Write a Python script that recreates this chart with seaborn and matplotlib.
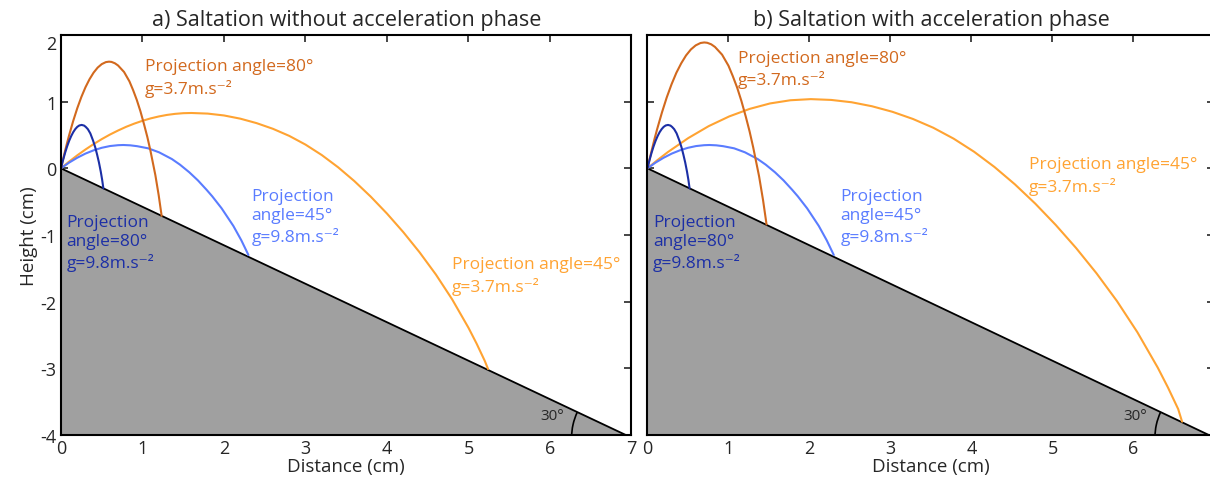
import matplotlib
matplotlib.use("Agg")
import matplotlib.pyplot as plt
from matplotlib.patches import Arc
import seaborn as sns

# ground surface, 30 degree slope (cm)
ground_x = [0, 7]
ground_y = [0, -4.04]

# trajectories (cm)
# 80 deg, g=9.8 (same in both panels)
blue80_x = [0, 0.0125, 0.025, 0.05, 0.075, 0.1, 0.125, 0.15, 0.175, 0.2, 0.225, 0.254, 0.284,
            0.305, 0.33, 0.36, 0.394, 0.42, 0.443, 0.466, 0.488, 0.505, 0.52]
blue80_y = [0, 0.063, 0.122, 0.231, 0.328, 0.412, 0.483, 0.542, 0.588, 0.622, 0.643, 0.651,
            0.641, 0.620, 0.587, 0.524, 0.415, 0.316, 0.207, 0.087, -0.049, -0.171, -0.30]
# 45 deg, g=9.8 (same in both panels)
blue45_x = [0, 0.1, 0.2, 0.3, 0.4, 0.5, 0.6, 0.7, 0.765, 0.85, 0.935, 1.07, 1.204, 1.361,
            1.46, 1.574, 1.68, 1.787, 1.856, 1.971, 2.115, 2.213, 2.30]
blue45_y = [0, 0.086, 0.159, 0.221, 0.270, 0.308, 0.334, 0.347, 0.35, 0.345, 0.332, 0.30,
            0.24, 0.139, 0.055, -0.059, -0.181, -0.323, -0.42, -0.60, -0.864, -1.08, -1.30]

# a) without acceleration phase, g=3.7
orange80a_x = [0, 0.025, 0.05, 0.075, 0.1, 0.15, 0.2, 0.25, 0.3, 0.35, 0.4, 0.45, 0.5, 0.55,
               0.589, 0.62, 0.661, 0.70, 0.774, 0.840, 0.885, 0.930, 0.975, 1.020, 1.06,
               1.097, 1.158, 1.199, 1.235]
orange80a_y = [0, 0.133, 0.26, 0.381, 0.497, 0.711, 0.902, 1.070, 1.215, 1.336, 1.435, 1.511,
               1.563, 1.593, 1.60, 1.596, 1.576, 1.543, 1.445, 1.304, 1.173, 1.026, 0.855,
               0.656, 0.468, 0.268, -0.102, -0.405, -0.713]
orange45a_x = [0, 0.1, 0.2, 0.3, 0.4, 0.5, 0.6, 0.7, 0.8, 0.9, 1.0, 1.1, 1.2, 1.3, 1.4, 1.5,
               1.6, 1.8, 2.0, 2.2, 2.4, 2.6, 2.8, 3.0, 3.2, 3.4, 3.6, 3.8, 4.0, 4.2, 4.4,
               4.6, 4.8, 5.0, 5.1, 5.2, 5.24]
orange45a_y = [0, 0.101, 0.195, 0.282, 0.363, 0.438, 0.506, 0.567, 0.623, 0.671, 0.713,
               0.749, 0.778, 0.801, 0.817, 0.827, 0.83, 0.821, 0.793, 0.745, 0.678, 0.593,
               0.487, 0.356, 0.199, 0.016, -0.192, -0.424, -0.679, -0.957, -1.260, -1.593,
               -1.966, -2.392, -2.63, -2.889, -3.01]

# b) with acceleration phase, g=3.7
orange80b_x = [0, 0.030, 0.060, 0.089, 0.119, 0.179, 0.238, 0.298, 0.357, 0.417, 0.476,
               0.536, 0.595, 0.655, 0.701, 0.738, 0.787, 0.833, 0.921, 1.000, 1.053, 1.107,
               1.160, 1.214, 1.261, 1.305, 1.378, 1.427, 1.470]
orange80b_y = [0, 0.157, 0.307, 0.450, 0.586, 0.839, 1.064, 1.263, 1.434, 1.576, 1.693,
               1.783, 1.844, 1.880, 1.888, 1.883, 1.860, 1.821, 1.705, 1.539, 1.384, 1.211,
               1.009, 0.774, 0.552, 0.316, -0.120, -0.478, -0.841]
orange45b_x = [0, 0.126, 0.252, 0.504, 0.756, 1.008, 1.26, 1.512, 1.764, 2.016, 2.268, 2.52,
               2.772, 3.024, 3.276, 3.528, 3.78, 4.032, 4.284, 4.536, 4.788, 5.04, 5.292,
               5.544, 5.796, 6.048, 6.30, 6.426, 6.552, 6.60]
orange45b_y = [0, 0.126, 0.244, 0.454, 0.633, 0.778, 0.891, 0.973, 1.021, 1.038, 1.026,
               0.991, 0.931, 0.848, 0.741, 0.609, 0.445, 0.249, 0.020, -0.240, -0.530,
               -0.849, -1.196, -1.575, -1.991, -2.458, -2.99, -3.288, -3.611, -3.80]

x_ticks = [0, 1, 2, 3, 4, 5, 6, 7]
y_ticks = [-4, -3, -2, -1, 0, 1, 2]

c_dblue = "#1c2fa6"
c_lblue = "#5a7cff"
c_dorange = "#d2691e"
c_lorange = "#ffa332"
c_ground = "#a0a0a0"

sns.set_style("ticks", {"xtick.direction": "in", "ytick.direction": "in"})
plt.rcParams['font.family'] = ['Open Sans', 'DejaVu Sans']
plt.rcParams['axes.unicode_minus'] = False

fig = plt.figure(figsize=(12.1, 4.85), dpi=100)
ax1 = fig.add_axes([0.0504, 0.101, 0.4715, 0.8248])
ax2 = fig.add_axes([0.5351, 0.101, 0.4686, 0.8248])

panels = [
    (ax1, "a) Saltation without acceleration phase",
     orange80a_x, orange80a_y, orange45a_x, orange45a_y),
    (ax2, "b) Saltation with acceleration phase",
     orange80b_x, orange80b_y, orange45b_x, orange45b_y),
]

sup = "\u207b\u00b2"
lw = 1.5
fs = 12.5
txt = dict(fontsize=fs, va="top", ha="left", linespacing=1.3)

for ax, title, o80x, o80y, o45x, o45y in panels:
    ax.fill_between(ground_x, ground_y, -5, color=c_ground, lw=0)
    sns.lineplot(x=ground_x, y=ground_y, ax=ax, color="black", lw=1.3, sort=False, estimator=None)
    sns.lineplot(x=o45x, y=o45y, ax=ax, color=c_lorange, lw=lw, sort=False, estimator=None)
    sns.lineplot(x=blue45_x, y=blue45_y, ax=ax, color=c_lblue, lw=lw, sort=False, estimator=None)
    sns.lineplot(x=o80x, y=o80y, ax=ax, color=c_dorange, lw=lw, sort=False, estimator=None)
    sns.lineplot(x=blue80_x, y=blue80_y, ax=ax, color=c_dblue, lw=lw, sort=False, estimator=None)

    # slope angle marker
    ax.add_patch(Arc((7, -4.04), 1.47, 1.80, theta1=150, theta2=180, color="black", lw=1.2))

    ax.set_xlim(0, 7)
    ax.set_ylim(-4, 2)
    ax.set_xticks(x_ticks)
    ax.set_yticks(y_ticks)
    ax.tick_params(top=True, right=True, labelsize=13, length=5, width=1.2, pad=3)
    for s in ax.spines.values():
        s.set_linewidth(1.5)
        s.set_color("black")
    ax.set_title(title, fontsize=15.5, pad=7)
    ax.set_xlabel("Distance (cm)", fontsize=13.5, labelpad=0)

    ax.text(0.07, -0.68, "Projection\nangle=80°\ng=9.8m.s" + sup, color=c_dblue, **txt)
    ax.text(5.88, -3.6, "30°", fontsize=11, va="top", ha="left")

ax1.set_ylabel("Height (cm)", fontsize=13.5, labelpad=2)
ax2.set_ylabel("")
ax2.tick_params(labelleft=False)

ax1.text(1.03, 1.65, "Projection angle=80°\ng=3.7m.s" + sup, color=c_dorange, **txt)
ax1.text(2.34, -0.29, "Projection\nangle=45°\ng=9.8m.s" + sup, color=c_lblue, **txt)
ax1.text(4.80, -1.32, "Projection angle=45°\ng=3.7m.s" + sup, color=c_lorange, **txt)

ax2.text(1.12, 1.78, "Projection angle=80°\ng=3.7m.s" + sup, color=c_dorange, **txt)
ax2.text(2.38, -0.29, "Projection\nangle=45°\ng=9.8m.s" + sup, color=c_lblue, **txt)
ax2.text(4.71, 0.18, "Projection angle=45°\ng=3.7m.s" + sup, color=c_lorange, **txt)

# the top "2" label sits just under the frame in the original
fig.canvas.draw()
ax1.yaxis.get_major_ticks()[-1].label1.set_va("top")

fig.savefig("out.png", dpi=100)
